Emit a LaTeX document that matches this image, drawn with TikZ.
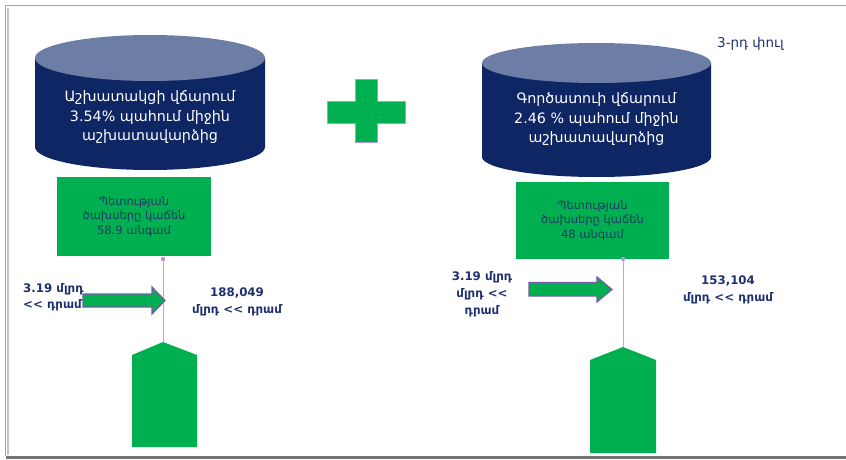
\documentclass[tikz,border=0pt]{standalone}
\usepackage{fontspec}
\setmainfont{DejaVu Sans}
\definecolor{navy}{RGB}{14,38,100}
\definecolor{capc}{RGB}{108,126,166}
\definecolor{grn}{RGB}{0,176,80}
\definecolor{txtc}{RGB}{30,48,110}
\definecolor{boxtxt}{RGB}{28,60,96}
\definecolor{purp}{RGB}{120,90,170}
\definecolor{lav}{RGB}{196,160,245}
\begin{document}
\begin{tikzpicture}[x=1pt,y=-1pt,
  cyltext/.style={text=white,align=center,font=\fontsize{14.3}{19.5}\selectfont},
  gbox/.style={fill=grn,draw=none,align=center,text=boxtxt,font=\fontsize{11.5}{14.5}\selectfont,inner sep=0pt},
  lbl/.style={text=txtc,font=\bfseries\fontsize{11.8}{16.8}\selectfont,inner sep=0pt},
  blockarrow/.style={fill=grn,draw=purp,line width=1.2pt},
  plate/.style={fill=grn,draw=none},
  conn/.style={draw=lav,line width=0.9pt}]
\useasboundingbox (0,0) rectangle (846,460);
% frame
\draw[black!22,line width=2pt] (8,8) -- (8,455);
\draw[black!35,line width=1.2pt] (846,5.5) -- (5.5,5.5) -- (5.5,456);
\draw[black!55,line width=2.5pt] (6,457.5) -- (846,457.5);
% left cylinder
\fill[navy] (35,58) -- (35,147) arc[start angle=180,end angle=0,x radius=115,y radius=23] -- (265,58) -- cycle;
\fill[capc] (150,58) ellipse[x radius=115,y radius=23];
\node[cyltext] (c1) at (150,117) {Աշխատակցի վճարում\\3.54\% պահում միջին\\աշխատավարձից};
% right cylinder
\fill[navy] (482,63) -- (482,157) arc[start angle=180,end angle=0,x radius=114.5,y radius=20] -- (711,63) -- cycle;
\fill[capc] (596.5,63) ellipse[x radius=114.5,y radius=20];
\node[cyltext] (c2) at (596.5,119) {Գործատուի վճարում\\2.46 \% պահում միջին\\աշխատավարձից};
% plus
\fill[grn,draw=lav!80!purp,line width=1pt] (355,80) -- (377,80) -- (377,101) -- (405,101) -- (405,123) -- (377,123) -- (377,142) -- (355,142) -- (355,123) -- (327,123) -- (327,101) -- (355,101) -- cycle;
\node[text=txtc,font=\fontsize{13.5}{16}\selectfont,anchor=west,inner sep=0pt] (phase) at (717,44) {3-րդ փուլ};
% green boxes
\node[gbox,minimum width=154pt,minimum height=79pt] (b1) at (134,216.5) {Պետության\\ծախսերը կաճեն\\58.9 անգամ};
\node[gbox,minimum width=153pt,minimum height=77pt] (b2) at (592.5,220.5) {Պետության\\ծախսերը կաճեն\\48 անգամ};
% dots and pentagons
\coordinate (d1) at (163,259);
\coordinate (p1) at (163,342);
\coordinate (d2) at (623,259);
\coordinate (p2) at (623,347);
\fill[plate] (p1) -- (197,355) -- (197,447) -- (132,447) -- (132,355) -- cycle;
\fill[plate] (p2) -- (656,360) -- (656,453) -- (590,453) -- (590,360) -- cycle;
\draw[conn] (d1) -- (p1);
\draw[conn] (d2) -- (p2);
\fill[lav!80!purp] (d1) circle[radius=2.2];
\fill[lav!80!purp] (d2) circle[radius=2.2];
% block arrows
\draw[blockarrow] (83,294) -- (152,294) -- (152,287) -- (165,300.5) -- (152,314) -- (152,307) -- (83,307) -- cycle;
\draw[blockarrow] (529,282.5) -- (597,282.5) -- (597,277) -- (612,289.5) -- (597,302) -- (597,296) -- (529,296) -- cycle;
% labels
\node[lbl,anchor=north west,align=left] (l1) at (23,283) {3.19 մլրդ\\<\kern0pt< դրամ};
\node[lbl,align=center] (r1) at (237,301.5) {188,049\\մլրդ <\kern0pt< դրամ};
\node[lbl,align=center] (l2) at (482,294.5) {3.19 մլրդ\\մլրդ <\kern0pt<\\դրամ};
\node[lbl,align=center] (r2) at (728,289.5) {153,104\\մլրդ <\kern0pt< դրամ};
\end{tikzpicture}
\end{document}
